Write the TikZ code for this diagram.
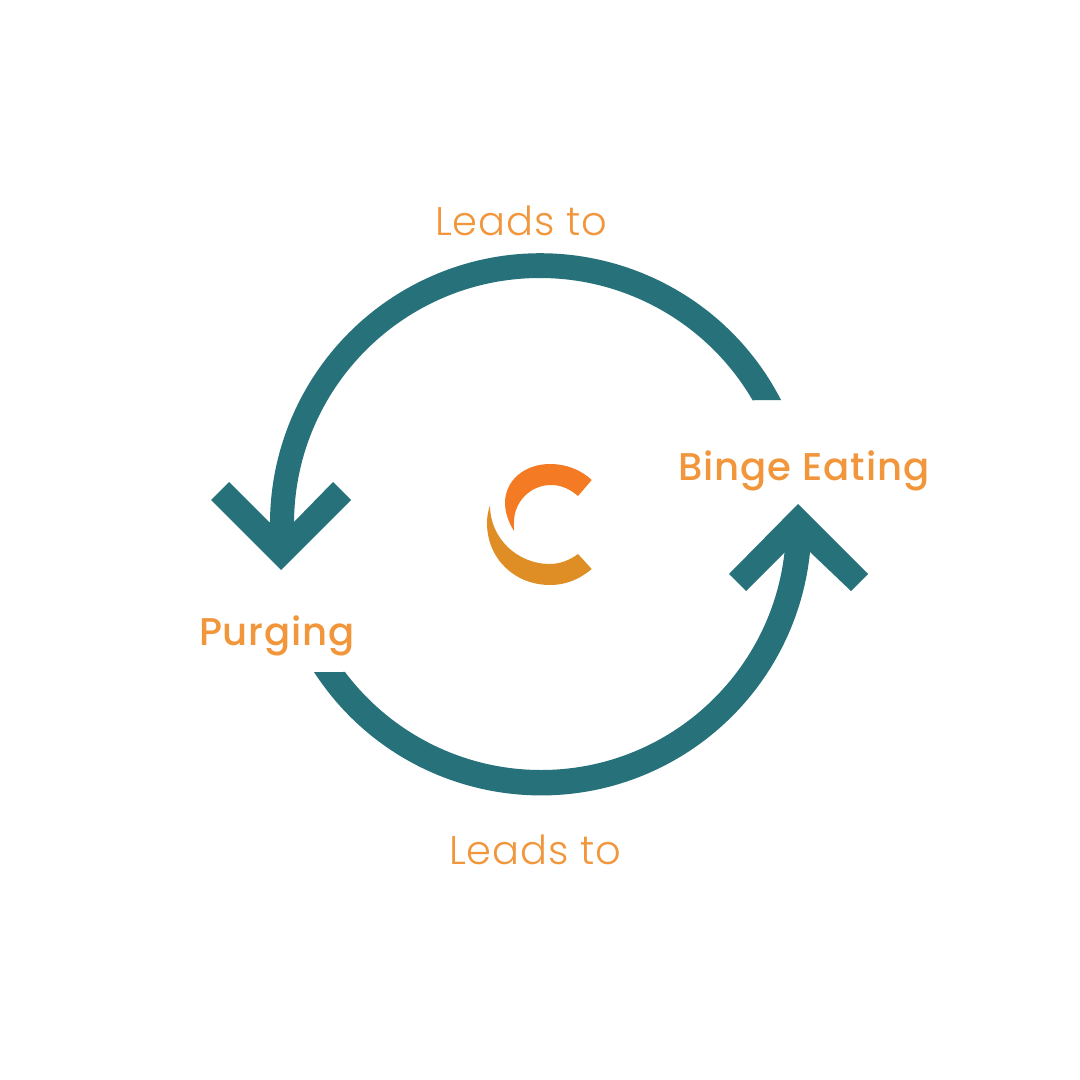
\documentclass[tikz,border=0pt]{standalone}
\usepackage{fontspec}
\setmainfont{Poppins}
\newfontfamily\lightf[LetterSpace=2]{Poppins Light}
\newfontfamily\medf[LetterSpace=2.2]{Poppins Medium}
\definecolor{teal1}{HTML}{26717A}
\definecolor{txt}{HTML}{F2963C}
\definecolor{org}{HTML}{F47B23}
\definecolor{gold}{HTML}{DF8E25}
\tikzset{
 shaft/.style={fill=teal1,draw=none},
 lead/.style={text=txt,anchor=base,inner sep=0pt,font=\lightf\fontsize{30}{30}\selectfont},
 state/.style={text=txt,anchor=base,inner sep=0pt,font=\medf\fontsize{29}{29}\selectfont}
}
\begin{document}
\begin{tikzpicture}[x=0.75pt,y=-0.75pt]
\useasboundingbox (0,0) rectangle (1080,1080);
\fill[white] (0,0) rectangle (1080,1080);
% top arc and head (y axis points down, so angles run clockwise on the page)
\fill[shaft] (781,400) arc[start angle=-27.23,end angle=-180,radius=270.5]
  -- (294,524) arc[start angle=-180,end angle=-30.2,radius=246] -- cycle;
\fill[shaft] (281,570) -- (211,500) -- (229,482) -- (269,522) -- (294,522) -- (333,482) -- (351,500) -- cycle;
% bottom arc and head
\fill[shaft] (314,672) arc[start angle=147.07,end angle=0,radius=270.4]
  -- (786,525) arc[start angle=0,end angle=143.2,radius=245] -- (343,672) -- cycle;
\fill[shaft] (798,504) -- (729,574) -- (746,591) -- (785,552) -- (810,552) -- (851,591) -- (868,574) -- cycle;
% logo
\fill[org] (591.7,480) .. controls (580,469) and (565,464) .. (550,464)
  .. controls (525,464) and (505,480) .. (505,503)
  .. controls (505,513) and (509,523) .. (514,531)
  .. controls (513.5,527) and (514,525) .. (514,522)
  .. controls (514,501.6) and (530.6,485) .. (551,485)
  .. controls (561,485) and (570,489) .. (578,496) -- cycle;
\fill[gold] (490,505.5) .. controls (488,511) and (487,517) .. (487,523)
  .. controls (487,559) and (515,585) .. (550,585)
  .. controls (566,585) and (580,579) .. (591.7,569)
  -- (578,554) .. controls (570,560) and (560,564) .. (550,564)
  .. controls (517,564) and (490,538) .. (490,505.5) -- cycle;
% labels
\node[lead] (top) at (521,236) {Leads to};
\node[lead] (bottom) at (535,864) {Leads to};
\node[state] (binge) at (804,480) {Binge Eating};
\node[state] (purge) at (277,645) {Purging};
\end{tikzpicture}
\end{document}
